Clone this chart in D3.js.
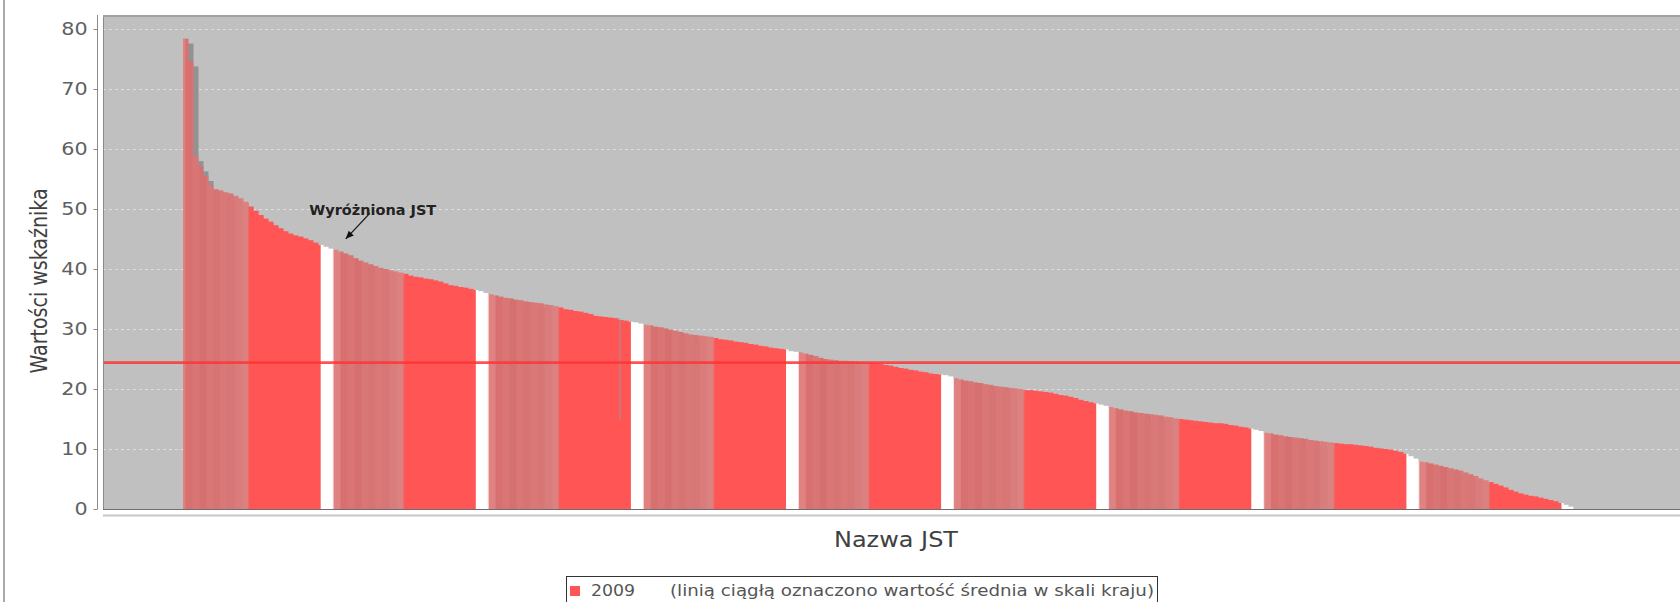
<!DOCTYPE html>
<html>
<head>
<meta charset="utf-8">
<script src="https://cdn.jsdelivr.net/npm/d3@7"></script>
<style>
  body { margin: 0; background: #fff; overflow: hidden; }
  text { font-family: "DejaVu Sans", sans-serif; }
</style>
</head>
<body>
<svg id="chart"></svg>
<script>
// wartości wskaźnika 2009, posortowane malejąco
var values2009 = [
  78.4, 74.6, 58.8, 57.1, 55.5, 54.0, 53.3, 53.1, 52.8, 52.6,
  52.2, 51.8, 51.2, 50.4, 49.7, 49.0, 48.4, 47.9, 47.3, 46.8,
  46.3, 45.9, 45.6, 45.4, 45.1, 44.8, 44.4, 44.0, 43.7, 43.4,
  43.2, 42.9, 42.6, 42.3, 41.8, 41.4, 41.1, 40.8, 40.5, 40.2,
  40.0, 39.8, 39.6, 39.4, 39.2, 38.9, 38.7, 38.6, 38.4, 38.3,
  38.1, 37.9, 37.6, 37.3, 37.2, 37.0, 36.9, 36.7, 36.5, 36.3,
  36.0, 35.8, 35.6, 35.4, 35.2, 35.1, 34.9, 34.8, 34.6, 34.5,
  34.4, 34.3, 34.1, 34.0, 33.8, 33.6, 33.3, 33.2, 33.0, 32.9,
  32.7, 32.5, 32.2, 32.1, 32.0, 31.9, 31.8, 31.5, 31.4, 31.2,
  31.1, 30.9, 30.7, 30.6, 30.4, 30.3, 30.1, 29.9, 29.7, 29.5,
  29.3, 29.1, 29.0, 28.9, 28.8, 28.7, 28.5, 28.3, 28.2, 28.1,
  27.9, 27.8, 27.7, 27.5, 27.4, 27.2, 27.1, 26.9, 26.8, 26.7,
  26.6, 26.3, 26.2, 26.1, 25.9, 25.7, 25.5, 25.2, 25.0, 24.9,
  24.8, 24.7, 24.7, 24.6, 24.6, 24.5, 24.4, 24.4, 24.3, 24.2,
  24.0, 23.9, 23.7, 23.5, 23.4, 23.2, 23.1, 22.9, 22.8, 22.6,
  22.5, 22.4, 22.3, 22.1, 21.8, 21.6, 21.4, 21.3, 21.1, 21.0,
  20.8, 20.7, 20.5, 20.4, 20.3, 20.2, 20.1, 20.0, 19.8, 19.8,
  19.7, 19.6, 19.5, 19.4, 19.2, 19.0, 18.9, 18.7, 18.5, 18.2,
  18.0, 17.8, 17.6, 17.4, 17.2, 17.0, 16.8, 16.6, 16.4, 16.3,
  16.1, 16.0, 15.9, 15.8, 15.7, 15.6, 15.4, 15.3, 15.1, 15.0,
  14.9, 14.8, 14.7, 14.6, 14.5, 14.4, 14.3, 14.3, 14.2, 14.0,
  13.9, 13.7, 13.6, 13.4, 13.2, 13.0, 12.7, 12.6, 12.4, 12.3,
  12.1, 12.0, 11.9, 11.8, 11.7, 11.5, 11.4, 11.3, 11.2, 11.1,
  11.0, 10.9, 10.8, 10.8, 10.7, 10.6, 10.5, 10.4, 10.2, 10.1,
  10.0, 9.9, 9.7, 9.5, 9.2, 8.8, 8.4, 7.9, 7.8, 7.6,
  7.4, 7.2, 7.0, 6.8, 6.6, 6.4, 6.1, 5.8, 5.5, 5.1,
  4.8, 4.5, 4.2, 3.9, 3.6, 3.2, 2.9, 2.6, 2.4, 2.2,
  2.1, 1.9, 1.7, 1.5, 1.3, 1.0, 0.7, 0.4
];
var yTicks = [0, 10, 20, 30, 40, 50, 60, 70, 80];
var meanValue = 24.4;                  // średnia w skali kraju
var highlighted = { index: 30, label: "Wyróżniona JST" };
var whisker = { index: 87, low: 14.8, high: 31.8 };
var seriesName = "2009";
var legendNote = "(linią ciągłą oznaczono wartość średnia w skali kraju)";

var width = 1680, height = 602;
var plot = { left: 103, top: 15, right: 1700, bottom: 509 };

var svg = d3.select("#chart")
    .attr("width", width)
    .attr("height", height);

// ramka panelu po lewej
svg.append("rect")
    .attr("x", 3).attr("y", 0)
    .attr("width", 2).attr("height", height)
    .attr("fill", "#a9a9a9");

var x = d3.scaleBand()
    .domain(d3.range(values2009.length))
    .range([183, 1573])
    .padding(0);

var y = d3.scaleLinear()
    .domain([0, 80])
    .range([509, 29]);

// cykliczny wzór wypełnienia słupków
var defs = svg.append("defs");
defs.append("clipPath").attr("id", "plotClip")
  .append("rect")
    .attr("x", plot.left).attr("y", plot.top)
    .attr("width", plot.right - plot.left)
    .attr("height", plot.bottom - plot.top);

var faded = ["#e08282", "#d87070", "#da7575", "#d67070", "#d97676",
             "#d77373", "#da7878", "#d87575", "#db7b7b", "#dc8080"];
var cycle = 155.1, whiteW = 12.7, fadedW = 70.3;
var pat = defs.append("pattern")
    .attr("id", "cycle")
    .attr("patternUnits", "userSpaceOnUse")
    .attr("x", 165.6).attr("y", 0)
    .attr("width", cycle).attr("height", height);
pat.append("rect").attr("x", 0).attr("width", whiteW + 0.2).attr("height", height).attr("fill", "#ffffff");
faded.forEach(function(c, k) {
  pat.append("rect")
    .attr("x", whiteW + k * fadedW / faded.length)
    .attr("width", fadedW / faded.length + 0.3)
    .attr("height", height)
    .attr("fill", c);
});
pat.append("rect")
    .attr("x", whiteW + fadedW)
    .attr("width", cycle - whiteW - fadedW)
    .attr("height", height)
    .attr("fill", "#ff5555");

// tło wykresu
svg.append("rect")
    .attr("x", plot.left).attr("y", plot.top)
    .attr("width", plot.right - plot.left)
    .attr("height", plot.bottom - plot.top)
    .attr("fill", "#c0c0c0");

var inner = svg.append("g").attr("clip-path", "url(#plotClip)");

// linie siatki
inner.selectAll(".grid")
  .data(yTicks.filter(function(d) { return d > 0; }))
  .enter()
  .append("line")
    .attr("x1", plot.left).attr("x2", plot.right)
    .attr("y1", function(d) { return y(d) + 0.5; })
    .attr("y2", function(d) { return y(d) + 0.5; })
    .attr("stroke", "#dedede")
    .attr("stroke-width", 1)
    .attr("stroke-dasharray", "3,3");

// cienie słupków
inner.selectAll(".shadow")
  .data(values2009)
  .enter()
  .append("rect")
    .attr("x", function(d, i) { return x(i) + 5; })
    .attr("y", function(d) { return y(d) + 5; })
    .attr("width", x.bandwidth() + 0.5)
    .attr("height", function(d) { return Math.max(0, y(0) - y(d)); })
    .attr("fill", "#929292");

// słupki
inner.selectAll(".bar")
  .data(values2009)
  .enter()
  .append("rect")
    .attr("x", function(d, i) { return x(i); })
    .attr("y", function(d) { return y(d); })
    .attr("width", x.bandwidth() + 0.5)
    .attr("height", function(d) { return y(0) - y(d); })
    .attr("fill", "url(#cycle)");

inner.append("line")
    .attr("x1", x(whisker.index) + 2).attr("x2", x(whisker.index) + 2)
    .attr("y1", y(whisker.high)).attr("y2", y(whisker.low))
    .attr("stroke", "#999")
    .attr("stroke-width", 1);

// średnia krajowa
inner.append("line")
    .attr("x1", plot.left).attr("x2", plot.right)
    .attr("y1", y(meanValue)).attr("y2", y(meanValue))
    .attr("stroke", "#ff3535")
    .attr("stroke-opacity", 0.85)
    .attr("stroke-width", 2.6);

// ramka obszaru
svg.append("line")
    .attr("x1", plot.left + 0.5).attr("x2", plot.left + 0.5)
    .attr("y1", plot.top).attr("y2", plot.bottom)
    .attr("stroke", "#8a8a8a");
svg.append("line")
    .attr("x1", plot.left).attr("x2", plot.right)
    .attr("y1", plot.top + 1).attr("y2", plot.top + 1)
    .attr("stroke", "#a2a2a2").attr("stroke-width", 2);
svg.append("line")
    .attr("x1", plot.left).attr("x2", plot.right)
    .attr("y1", plot.bottom + 0.5).attr("y2", plot.bottom + 0.5)
    .attr("stroke", "#6e6e6e");

// oś X
svg.append("line")
    .attr("x1", plot.left).attr("x2", plot.right)
    .attr("y1", 515.5).attr("y2", 515.5)
    .attr("stroke", "#c6c6c6").attr("stroke-width", 2);

// oś Y
svg.append("line")
    .attr("x1", 97.5).attr("x2", 97.5)
    .attr("y1", plot.top).attr("y2", plot.bottom)
    .attr("stroke", "#8a8a8a");

var yAxis = svg.append("g")
    .attr("transform", "translate(97.5,0)")
    .call(d3.axisLeft(y).tickValues(yTicks).tickSize(4).tickSizeOuter(0).tickPadding(4));
yAxis.select(".domain").remove();
yAxis.selectAll(".tick line").attr("stroke", "#8a8a8a");
yAxis.selectAll(".tick text")
    .attr("fill", "#606060")
    .style("font-size", "17px")
    .style("font-family", "DejaVu Sans, sans-serif")
    .attr("transform", "scale(1.22,1)");

svg.append("text")
    .attr("transform", "translate(47,281) scale(1.25,1) rotate(-90)")
    .attr("text-anchor", "middle")
    .attr("fill", "#404040")
    .style("font-size", "19px")
    .text("Wartości wskaźnika");

svg.append("text")
    .attr("x", 896).attr("y", 547)
    .attr("text-anchor", "middle")
    .attr("fill", "#404040")
    .attr("textLength", 124)
    .attr("lengthAdjust", "spacingAndGlyphs")
    .style("font-size", "21px")
    .text("Nazwa JST");

// adnotacja
var ax = x(highlighted.index) + x.bandwidth() / 2,
    ay = y(values2009[highlighted.index]),
    ang = -Math.PI * 0.26,
    tip = [ax + 15 * Math.cos(ang), ay + 15 * Math.sin(ang)],
    base = [ax + 50 * Math.cos(ang), ay + 50 * Math.sin(ang)];
svg.append("line")
    .attr("x1", base[0]).attr("y1", base[1])
    .attr("x2", tip[0]).attr("y2", tip[1])
    .attr("stroke", "#111").attr("stroke-width", 1.2);
var hl = 8, hw = 3.5,
    dx = Math.cos(ang), dy = Math.sin(ang);
svg.append("path")
    .attr("d", "M" + tip[0] + "," + tip[1] +
               "L" + (tip[0] + hl * dx - hw * dy) + "," + (tip[1] + hl * dy + hw * dx) +
               "L" + (tip[0] + hl * dx + hw * dy) + "," + (tip[1] + hl * dy - hw * dx) + "Z")
    .attr("fill", "#111");
svg.append("text")
    .attr("x", base[0] + 3).attr("y", base[1] + 2)
    .attr("text-anchor", "middle")
    .attr("fill", "#222")
    .attr("textLength", 127)
    .attr("lengthAdjust", "spacingAndGlyphs")
    .style("font-size", "14px")
    .style("font-weight", "600")
    .text(highlighted.label);

// legenda
var legend = svg.append("g");
legend.append("rect")
    .attr("x", 566.5).attr("y", 576.5)
    .attr("width", 591).attr("height", 40)
    .attr("fill", "#fff")
    .attr("stroke", "#333");
legend.append("rect")
    .attr("x", 570).attr("y", 586)
    .attr("width", 10).attr("height", 10)
    .attr("fill", "#ff5555");
legend.append("text")
    .attr("x", 591).attr("y", 596)
    .attr("fill", "#555")
    .attr("textLength", 44)
    .attr("lengthAdjust", "spacingAndGlyphs")
    .style("font-size", "16px")
    .text(seriesName);
legend.append("text")
    .attr("x", 670).attr("y", 596)
    .attr("fill", "#555")
    .attr("textLength", 484)
    .attr("lengthAdjust", "spacingAndGlyphs")
    .style("font-size", "16px")
    .text(legendNote);
</script>
</body>
</html>
